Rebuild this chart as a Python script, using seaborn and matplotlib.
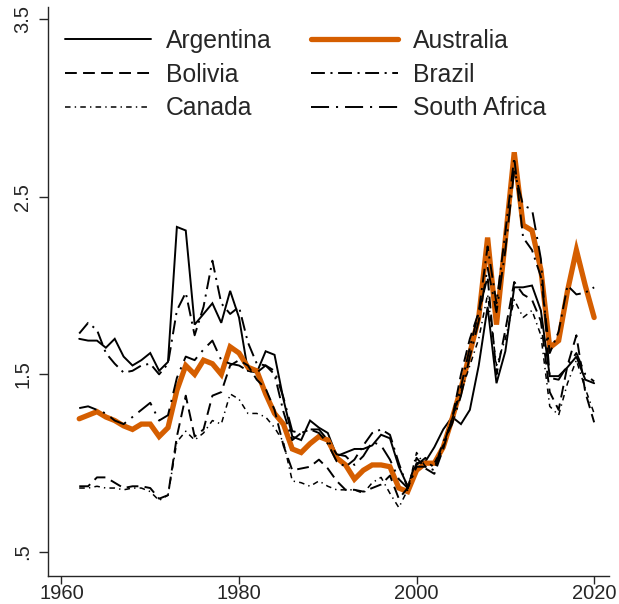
import numpy as np
import pandas as pd
import matplotlib
matplotlib.use("Agg")
import matplotlib.pyplot as plt
import seaborn as sns

# ---- data ----
years = list(range(1962, 2021))

argentina = [1.70, 1.69, 1.69, 1.65, 1.70, 1.60, 1.55, 1.58, 1.62, 1.52,
             1.57, 2.33, 2.31, 1.78, 1.84, 1.90, 1.79, 1.97, 1.82, 1.52,
             1.51, 1.63, 1.61, 1.36, 1.15, 1.13, 1.24, 1.20, 1.17, 1.04,
             1.06, 1.08, 1.08, 1.10, 1.16, 1.14, 0.98, 0.87, 1.00, 1.01,
             1.09, 1.19, 1.26, 1.22, 1.30, 1.55, 1.88, 1.45, 1.63, 1.99,
             1.99, 2.00, 1.86, 1.49, 1.49, 1.54, 1.60, 1.47, 1.45]

australia = [1.25, 1.27, 1.29, 1.26, 1.24, 1.21, 1.19, 1.22, 1.22, 1.15,
             1.20, 1.41, 1.55, 1.50, 1.58, 1.56, 1.50, 1.655, 1.62, 1.54,
             1.52, 1.39, 1.28, 1.22, 1.08, 1.06, 1.11, 1.15, 1.13, 1.03,
             0.99, 0.91, 0.96, 0.99, 0.99, 0.98, 0.86, 0.84, 0.96, 1.00,
             1.00, 1.09, 1.25, 1.42, 1.62, 1.82, 2.27, 1.78, 2.26, 2.75,
             2.34, 2.31, 2.09, 1.65, 1.69, 1.97, 2.20, 2.00, 1.82]

bolivia = [0.87, 0.87, 0.92, 0.92, 0.89, 0.86, 0.87, 0.87, 0.86, 0.80,
           0.82, 1.15, 1.38, 1.15, 1.19, 1.38, 1.40, 1.55, 1.58, 1.55,
           1.47, 1.42, 1.30, 1.10, 0.96, 0.97, 0.98, 1.02, 0.97, 0.90,
           0.85, 0.85, 0.84, 0.86, 0.88, 0.93, 0.80, 0.86, 1.03, 0.97,
           0.94, 1.08, 1.25, 1.50, 1.70, 1.85, 2.05, 1.50, 1.75, 2.02,
           1.95, 1.92, 1.80, 1.40, 1.30, 1.55, 1.72, 1.40, 1.23]

brazil = [1.73, 1.79, 1.75, 1.62, 1.56, 1.51, 1.52, 1.55, 1.56, 1.50,
          1.56, 1.86, 1.96, 1.72, 1.88, 2.14, 1.90, 1.84, 1.88, 1.68,
          1.56, 1.55, 1.50, 1.29, 1.13, 1.17, 1.19, 1.17, 1.11, 1.01,
          0.98, 1.02, 1.10, 1.17, 1.19, 1.16, 1.00, 0.86, 0.98, 0.98,
          0.96, 1.10, 1.25, 1.43, 1.65, 1.85, 2.22, 1.90, 2.30, 2.72,
          2.27, 2.20, 2.05, 1.62, 1.74, 2.00, 1.95, 1.96, 1.99]

canada = [0.86, 0.86, 0.87, 0.86, 0.86, 0.85, 0.86, 0.86, 0.84, 0.79,
          0.82, 1.12, 1.18, 1.13, 1.17, 1.24, 1.22, 1.39, 1.36, 1.28,
          1.28, 1.26, 1.20, 1.12, 0.90, 0.89, 0.87, 0.90, 0.87, 0.85,
          0.85, 0.85, 0.83, 0.89, 0.92, 0.83, 0.75, 0.85, 1.06, 0.98,
          1.00, 1.10, 1.25, 1.40, 1.55, 1.70, 1.95, 1.55, 1.70, 1.92,
          1.82, 1.86, 1.72, 1.32, 1.27, 1.45, 1.58, 1.42, 1.28]

south_africa = [1.31, 1.32, 1.30, 1.28, 1.24, 1.22, 1.26, 1.30, 1.34, 1.24,
                1.27, 1.48, 1.60, 1.58, 1.64, 1.69, 1.58, 1.56, 1.55, 1.52,
                1.51, 1.55, 1.52, 1.37, 1.18, 1.17, 1.19, 1.19, 1.13, 1.05,
                1.04, 0.99, 1.04, 1.12, 1.10, 1.02, 0.91, 0.86, 0.99, 1.03,
                0.97, 1.12, 1.22, 1.38, 1.60, 1.80, 2.10, 1.85, 2.20, 2.65,
                2.45, 2.43, 2.15, 1.48, 1.47, 1.55, 1.62, 1.50, 1.46]

countries = ["Argentina", "Australia", "Bolivia", "Brazil", "Canada", "South Africa"]
series = [argentina, australia, bolivia, brazil, canada, south_africa]

# ---- styles ----
styles = {
    "Argentina":    dict(color="black", lw=1.4, ls="-"),
    "Australia":    dict(color="#D55E00", lw=3.8, ls="-"),
    "Bolivia":      dict(color="black", lw=1.4, ls=(0, (8.5, 4.5))),
    "Brazil":       dict(color="black", lw=1.4, ls=(0, (10, 4, 1.5, 4))),
    "Canada":       dict(color="black", lw=1.1, ls=(0, (4, 3, 1, 3))),
    "South Africa": dict(color="black", lw=1.4, ls=(0, (13, 5, 1.5, 5))),
}

sns.set_style("ticks")
plt.rcParams["font.family"] = ["Liberation Sans", "DejaVu Sans"]
plt.rcParams["lines.scale_dashes"] = False

fig = plt.figure(figsize=(6.19, 6.04), dpi=100)
ax = fig.add_axes([0.0775, 0.0464, 0.906, 0.942])

handles = {}
for name, vals in zip(countries, series):
    st = styles[name]
    sns.lineplot(x=years, y=vals, ax=ax, color=st["color"], linewidth=st["lw"],
                 linestyle=st["ls"], solid_joinstyle="miter")
    handles[name] = ax.lines[-1]

ax.set_xlim(1958.48, 2021.65)
ax.set_ylim(0.365, 3.568)
ax.set_xticks([1960, 1980, 2000, 2020])
ax.set_yticks([0.5, 1.5, 2.5, 3.5])
ax.set_yticklabels([".5", "1.5", "2.5", "3.5"], rotation=90, va="center")
ax.tick_params(axis="x", labelsize=14.5, length=5.5, width=1, pad=0)
ax.tick_params(axis="y", labelsize=14.5, length=6.5, width=1, pad=5)
sns.despine(ax=ax)
for sp in ["left", "bottom"]:
    ax.spines[sp].set_linewidth(1.0)
ax.set_xlabel("")
ax.set_ylabel("")

order = ["Argentina", "Bolivia", "Canada", "Australia", "Brazil", "South Africa"]
ax.legend([handles[n] for n in order], order, ncol=2, frameon=False,
          loc="upper left", bbox_to_anchor=(0.03, 0.962),
          fontsize=17.8, handlelength=3.5, handletextpad=0.6,
          columnspacing=1.6, labelspacing=0.4, borderpad=0, borderaxespad=0)

fig.savefig("out.png", dpi=100)
